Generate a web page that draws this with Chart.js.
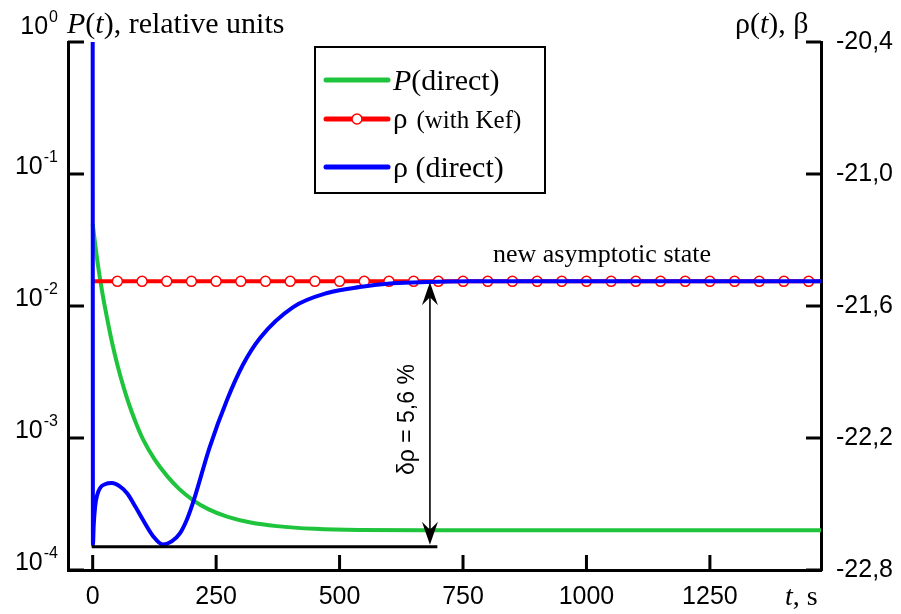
<!DOCTYPE html>
<html><head><meta charset="utf-8">
<script src="https://cdn.jsdelivr.net/npm/chart.js@4/dist/chart.umd.min.js"></script>
<style>html,body{margin:0;padding:0;background:#fff;overflow:hidden}</style>
</head><body>
<canvas id="c" width="901" height="614" style="display:block;width:901px;height:614px"></canvas>
<script>
// ---- data ----
const xTicks = [0, 250, 500, 750, 1000, 1250];
const leftTicks = [1, 0.1, 0.01, 0.001, 0.0001];
const leftTickExp = ['0', '-1', '-2', '-3', '-4'];
const rightTicks = [-20.4, -21.0, -21.6, -22.2, -22.8];

const tGreen = [0, 5, 11, 20, 29, 40, 51, 63, 75, 88, 102, 125, 150, 175, 203, 235, 272, 320, 373, 450, 541, 700, 1475];
const pGreen = [0.0417, 0.0295, 0.0200, 0.0123, 0.00813, 0.00513, 0.00347, 0.00240, 0.00174, 0.00129, 0.000977, 0.000692, 0.000519, 0.000412, 0.000339, 0.000288, 0.000254, 0.000229, 0.000215, 0.000205, 0.000201, 0.000200, 0.000200];

const tBlue = [0, 0.5, 2, 5, 9, 15, 25, 39, 55, 70, 86, 102, 122, 142, 160, 177, 190, 203, 237, 272, 304, 339, 406, 475, 541, 608, 677, 760, 1475];
const rhoBlue = [-20.40, -22.686, -22.60, -22.51, -22.46, -22.427, -22.41, -22.405, -22.42, -22.452, -22.51, -22.573, -22.645, -22.684, -22.67, -22.632, -22.575, -22.495, -22.241, -22.027, -21.868, -21.745, -21.605, -21.541, -21.514, -21.497, -21.491, -21.488, -21.488];

const tRed = [0, 50, 100, 150, 200, 250, 300, 350, 400, 450, 500, 550, 600, 650, 700, 750, 800, 850, 900, 950, 1000, 1050, 1100, 1150, 1200, 1250, 1300, 1350, 1400, 1450, 1475];
const rhoRed = [-21.488, -21.488, -21.488, -21.488, -21.488, -21.488, -21.488, -21.488, -21.488, -21.488, -21.488, -21.488, -21.488, -21.488, -21.488, -21.488, -21.488, -21.488, -21.488, -21.488, -21.488, -21.488, -21.488, -21.488, -21.488, -21.488, -21.488, -21.488, -21.488, -21.488, -21.488];

// annotation values
const deltaTop = -21.488;
const deltaBottom = -22.69;
const arrowT = 683;
const baseFromT = -2;
const baseToT = 698;
const deltaLabel = 'δρ = 5,6 %';
const asymLabel = 'new asymptotic state';

const GREEN = '#1ec43c', RED = '#ff0000', BLUE = '#0000ff';
const SERIF = '"Liberation Serif", "Times New Roman", serif';
const SANS = '"Liberation Sans", Arial, sans-serif';

function pts(xs, ys) { return xs.map((x, i) => ({x: x, y: ys[i]})); }

function drawRuns(ctx, x, y, runs) {
  let cx = x;
  for (const r of runs) {
    ctx.font = r.f;
    ctx.fillText(r.t, cx, y + (r.dy || 0));
    cx += ctx.measureText(r.t).width + (r.gap || 0);
  }
  return cx;
}

function arrowHead(ctx, x, y, dir) {
  ctx.beginPath();
  ctx.moveTo(x, y);
  ctx.lineTo(x - 8, y - dir * 23);
  ctx.lineTo(x, y - dir * 15);
  ctx.lineTo(x + 8, y - dir * 23);
  ctx.closePath();
  ctx.fill();
}

const decor = {
  id: 'decor',
  afterDatasetsDraw(chart) {
    const ctx = chart.ctx, xs = chart.scales.x, y2 = chart.scales.y2;
    ctx.save();
    ctx.strokeStyle = '#000'; ctx.fillStyle = '#000';
    ctx.lineWidth = 3;
    ctx.beginPath();
    const yb = y2.getPixelForValue(deltaBottom);
    ctx.moveTo(xs.getPixelForValue(baseFromT), yb + 1);
    ctx.lineTo(xs.getPixelForValue(baseToT), yb + 1);
    ctx.stroke();
    const ax = xs.getPixelForValue(arrowT);
    const yt = y2.getPixelForValue(deltaTop);
    ctx.lineWidth = 1.6;
    ctx.beginPath();
    ctx.moveTo(ax, yt + 12); ctx.lineTo(ax, yb - 12); ctx.stroke();
    arrowHead(ctx, ax, yt + 1, -1);
    arrowHead(ctx, ax, yb - 1, 1);
    ctx.save();
    ctx.translate(ax - 22, (yt + yb) / 2 + 6);
    ctx.rotate(-Math.PI / 2);
    ctx.font = '23px ' + SANS;
    ctx.textAlign = 'center'; ctx.textBaseline = 'middle';
    ctx.fillText(deltaLabel, 0, 0);
    ctx.restore();
    ctx.restore();
  },
  afterDraw(chart) {
    const ctx = chart.ctx, xs = chart.scales.x, ys = chart.scales.y, y2 = chart.scales.y2;
    const a = chart.chartArea;
    ctx.save();
    ctx.strokeStyle = '#000'; ctx.fillStyle = '#000';
    ctx.lineWidth = 3; ctx.lineCap = 'butt';
    ctx.beginPath();
    xTicks.forEach(v => { const px = xs.getPixelForValue(v); ctx.moveTo(px, a.bottom); ctx.lineTo(px, a.bottom - 15); });
    leftTicks.forEach(v => { const py = ys.getPixelForValue(v); ctx.moveTo(a.left, py); ctx.lineTo(a.left + 16, py); });
    rightTicks.forEach(v => { const py = y2.getPixelForValue(v); ctx.moveTo(a.right, py); ctx.lineTo(a.right - 15, py); });
    ctx.stroke();
    leftTicks.forEach((v, i) => {
      let py = ys.getPixelForValue(v) - 7;
      if (i === 0) py -= 8;
      ctx.font = '16px ' + SANS;
      const sw = ctx.measureText(leftTickExp[i]).width;
      const right = 58;
      ctx.textAlign = 'left'; ctx.textBaseline = 'middle';
      ctx.font = '25px ' + SANS;
      const bw = ctx.measureText('10').width;
      ctx.fillText('10', right - sw - bw - 1, py);
      ctx.font = '16px ' + SANS;
      ctx.fillText(leftTickExp[i], right - sw, py - 9);
    });
    ctx.textAlign = 'left'; ctx.textBaseline = 'alphabetic';
    drawRuns(ctx, 67, 33, [
      {t: 'P', f: 'italic 30px ' + SERIF},
      {t: '(', f: '30px ' + SERIF},
      {t: 't', f: 'italic 30px ' + SERIF},
      {t: '), relative units', f: '30px ' + SERIF}
    ]);
    drawRuns(ctx, 735, 33, [
      {t: 'ρ(', f: '30px ' + SERIF},
      {t: 't', f: 'italic 30px ' + SERIF},
      {t: '), β', f: '30px ' + SERIF}
    ]);
    drawRuns(ctx, 785, 605, [
      {t: 't', f: 'italic 28px ' + SERIF},
      {t: ', s', f: '28px ' + SERIF}
    ]);
    ctx.font = '26px ' + SERIF; ctx.textAlign = 'center';
    ctx.fillText(asymLabel, 602, 262);
    ctx.textAlign = 'left';
    ctx.lineWidth = 2;
    ctx.strokeRect(315, 47, 230, 146);
    ctx.lineCap = 'round';
    const items = [
      {c: GREEN, y: 80, marker: false, runs: [{t: 'P', f: 'italic 30px ' + SERIF}, {t: '(direct)', f: '30px ' + SERIF}], by: 90},
      {c: RED, y: 119, marker: true, runs: [{t: 'ρ', f: '29px ' + SERIF, gap: 9}, {t: '(with Kef)', f: '25px ' + SERIF}], by: 128},
      {c: BLUE, y: 167, marker: false, runs: [{t: 'ρ (direct)', f: '30px ' + SERIF}], by: 177}
    ];
    items.forEach(it => {
      ctx.strokeStyle = it.c; ctx.lineWidth = 5;
      ctx.beginPath(); ctx.moveTo(326, it.y); ctx.lineTo(388, it.y); ctx.stroke();
      if (it.marker) {
        ctx.lineWidth = 1.5; ctx.fillStyle = '#fff';
        ctx.beginPath(); ctx.arc(357, it.y, 5, 0, Math.PI * 2); ctx.fill(); ctx.stroke();
      }
      ctx.fillStyle = '#000';
      drawRuns(ctx, 393, it.by, it.runs);
    });
    ctx.restore();
  }
};

const border = {display: true, color: '#000', width: 3};
new Chart(document.getElementById('c'), {
  type: 'line',
  data: {
    datasets: [
      {label: 'ρ (direct)', data: pts(tBlue, rhoBlue), yAxisID: 'y2', borderColor: BLUE, borderWidth: 4,
       pointRadius: 0, cubicInterpolationMode: 'monotone', order: 0, clip: 0},
      {label: 'ρ (with Kef)', data: pts(tRed, rhoRed), yAxisID: 'y2', borderColor: RED, borderWidth: 4,
       pointRadius: c => (c.raw && c.raw.x > 0 && c.raw.x < 1460) ? 5 : 0,
       pointBackgroundColor: '#fff', pointBorderColor: RED, pointBorderWidth: 1.5, order: 1, clip: 0},
      {label: 'P(direct)', data: pts(tGreen, pGreen), yAxisID: 'y', borderColor: GREEN, borderWidth: 4,
       pointRadius: 0, cubicInterpolationMode: 'monotone', order: 2, clip: 0}
    ]
  },
  options: {
    responsive: false, animation: false, events: [],
    layout: {padding: {top: 42, left: 0, right: 0, bottom: 0}},
    plugins: {legend: {display: false}, tooltip: {enabled: false}},
    scales: {
      x: {type: 'linear', min: -50, max: 1475,
          grid: {display: false, drawTicks: false}, border: border,
          ticks: {font: {family: SANS, size: 25}, color: '#000', padding: 12, maxRotation: 0, autoSkip: false,
                  callback: v => String(v)},
          afterBuildTicks: s => { s.ticks = xTicks.map(v => ({value: v})); },
          afterFit: s => { s.height = 44; }},
      y: {type: 'logarithmic', position: 'left', min: 0.0001, max: 1,
          grid: {display: false, drawTicks: false}, border: border,
          ticks: {display: false},
          afterFit: s => { s.width = 68; }},
      y2: {type: 'linear', position: 'right', min: -22.8, max: -20.4,
           grid: {display: false, drawTicks: false}, border: border,
           ticks: {font: {family: SANS, size: 25}, color: '#000', padding: 15,
                   callback: v => v.toFixed(1).replace('.', ',')},
           afterBuildTicks: s => { s.ticks = rightTicks.map(v => ({value: v})); },
           afterFit: s => { s.width = 80; }}
    }
  },
  plugins: [decor]
});
</script>
</body></html>
